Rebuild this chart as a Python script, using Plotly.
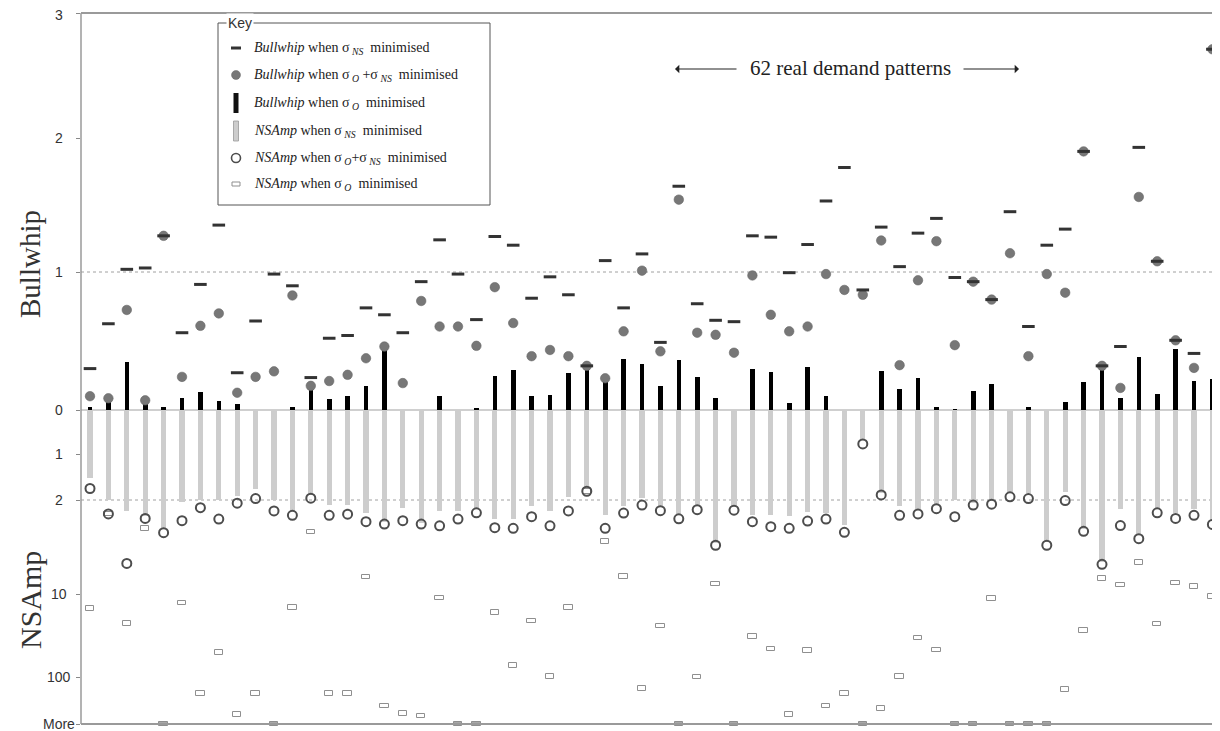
import numpy as np
import plotly.graph_objects as go

MORE = float("inf")

# 62 real demand patterns
patterns = list(range(1, 63))

# Bullwhip when sigma_NS minimised (dash)
bullwhip_ns = [0.30, 0.625, 1.02, 1.03, 1.27, 0.56, 0.91, 1.35, 0.27, 0.645,
               0.985, 0.90, 0.235, 0.52, 0.54, 0.74, 0.69, 0.56, 0.93, 1.24,
               0.985, 0.655, 1.265, 1.20, 0.81, 0.965, 0.835, 0.32, 1.085, 0.74,
               1.135, 0.49, 1.64, 0.77, 0.65, 0.64, 1.27, 1.26, 0.995, 1.205,
               1.53, 1.78, 0.87, 1.335, 1.04, 1.29, 1.40, 0.96, 0.93, 0.80,
               1.45, 0.605, 1.20, 1.32, 1.90, 0.32, 0.46, 1.93, 1.08, 0.505,
               0.41, 2.71]

# Bullwhip when sigma_O + sigma_NS minimised (grey dot)
bullwhip_both = [0.10, 0.085, 0.725, 0.07, 1.27, 0.24, 0.61, 0.70, 0.125, 0.24,
                 0.28, 0.83, 0.175, 0.21, 0.255, 0.375, 0.46, 0.195, 0.79, 0.605,
                 0.605, 0.465, 0.89, 0.63, 0.39, 0.435, 0.39, 0.32, 0.23, 0.57,
                 1.01, 0.425, 1.54, 0.56, 0.545, 0.415, 0.975, 0.69, 0.57, 0.605,
                 0.985, 0.87, 0.835, 1.235, 0.325, 0.94, 1.23, 0.47, 0.93, 0.80,
                 1.14, 0.39, 0.985, 0.85, 1.90, 0.32, 0.16, 1.56, 1.08, 0.505,
                 0.305, 2.71]

# Bullwhip when sigma_O minimised (black bar)
bullwhip_o = [0.025, 0.06, 0.345, 0.05, 0.025, 0.09, 0.13, 0.065, 0.045, 0.0,
              0.0, 0.02, 0.145, 0.08, 0.10, 0.175, 0.45, 0.0, 0.0, 0.10,
              0.0, 0.01, 0.245, 0.29, 0.10, 0.11, 0.265, 0.30, 0.205, 0.37,
              0.33, 0.175, 0.36, 0.24, 0.085, 0.0, 0.30, 0.275, 0.05, 0.31,
              0.105, 0.0, 0.0, 0.28, 0.15, 0.23, 0.025, 0.005, 0.14, 0.185,
              0.0, 0.025, 0.0, 0.055, 0.20, 0.35, 0.09, 0.385, 0.115, 0.44,
              0.21, 0.225]

# NSAmp when sigma_NS minimised (light grey bar)
nsamp_ns = [1.53, 2.0, 2.40, 2.65, 3.25, 2.06, 2.0, 2.0, 1.91, 1.77,
            2.0, 2.4, 1.9, 2.18, 2.18, 2.51, 2.9, 2.28, 2.95, 2.4,
            2.4, 2.35, 2.78, 2.78, 2.2, 2.41, 1.93, 1.78, 2.6, 2.23,
            1.96, 2.2, 2.6, 2.23, 4.2, 2.23, 2.6, 2.6, 2.62, 2.45,
            2.5, 3.08, 0.68, 1.85, 2.2, 2.35, 2.18, 2.0, 2.1, 2.05,
            1.82, 1.85, 4.08, 1.82, 3.27, 5.76, 2.33, 3.64, 2.33, 2.5,
            2.35, 2.84]

# NSAmp when sigma_O + sigma_NS minimised (open circle)
nsamp_both = [1.75, 2.54, 5.92, 2.74, 3.5, 2.85, 2.28, 2.77, 2.11, 1.97,
              2.41, 2.60, 1.96, 2.60, 2.55, 2.90, 3.02, 2.85, 3.02, 3.11,
              2.77, 2.49, 3.21, 3.25, 2.66, 3.11, 2.41, 1.81, 3.25, 2.5,
              2.18, 2.40, 2.76, 2.36, 4.34, 2.38, 2.90, 3.16, 3.25, 2.87,
              2.77, 3.48, 0.77, 1.89, 2.6, 2.54, 2.32, 2.66, 2.18, 2.15,
              1.93, 1.97, 4.34, 2.02, 3.42, 6.02, 3.1, 3.88, 2.49, 2.74,
              2.6, 3.04]

# NSAmp when sigma_O minimised (small rectangle)
nsamp_o = [15.0, 2.54, 22.8, 3.27, MORE, 12.9, 162, 51, 300, 162,
           MORE, 14.6, 3.46, 162, 162, 7.45, 235, 292, 316, 11.1,
           MORE, MORE, 16.8, 73, 21.2, 98, 14.6, 1.81, 4.08, 7.4,
           140, 24.3, MORE, 100, 8.46, MORE, 32.3, 46, 300, 48,
           235, 162, MORE, 252, 99, 34, 47, MORE, MORE, 11.4,
           MORE, MORE, MORE, 145, 27.7, 7.64, 8.6, 5.85, 23, 8.25,
           8.8, 10.7]

bullwhip_ticks = [3, 2, 1, 0]
nsamp_ticks = [1, 2, 10, 100, MORE]
nsamp_ticktext = ["1", "2", "10", "100", "More"]

# ---- axis transforms (chart's own custom scale) ----
def bw_pos(v):
    return float(np.interp(v, [0, 1, 2, 3], [0, 138, 272, 397]))

def ns_pos(v):
    if not np.isfinite(v):
        d = 314.0
    elif v <= 2:
        d = float(np.interp(v, [0, 1, 2], [0, 44, 90]))
    else:
        d = float(np.interp(np.log10(v), np.log10([2, 10, 100, 400]), [90, 184, 267, 314]))
    return -d

x = np.arange(len(patterns))
bw_ns_y = [bw_pos(v) for v in bullwhip_ns]
bw_both_y = [bw_pos(v) for v in bullwhip_both]
bw_o_y = [bw_pos(v) for v in bullwhip_o]
ns_ns_y = [ns_pos(v) for v in nsamp_ns]
ns_both_y = [ns_pos(v) for v in nsamp_both]
ns_o_y = [ns_pos(v) for v in nsamp_o]
RH = 4.5
ns_o_base = [p - RH / 2 for p in ns_o_y]
ns_o_fill = ["#a8a8a8" if not np.isfinite(v) else "white" for v in nsamp_o]

fig = go.Figure()
fig.add_trace(go.Bar(x=x, y=ns_ns_y, base=0, width=0.29, marker=dict(color="#cdcdcd", line=dict(width=0)),
                     name="NSAmp when σNS minimised", showlegend=False))
fig.add_trace(go.Bar(x=x, y=bw_o_y, base=0, width=0.25, marker=dict(color="#000000", line=dict(width=0)),
                     name="Bullwhip when σO minimised", showlegend=False))
fig.add_trace(go.Bar(x=x, y=[RH] * len(x), base=ns_o_base, width=0.46,
                     marker=dict(color=ns_o_fill, line=dict(color="#8f8f8f", width=1)),
                     name="NSAmp when σO minimised", showlegend=False))
fig.add_trace(go.Scatter(x=x, y=ns_both_y, mode="markers",
                         marker=dict(symbol="circle-open", size=9, color="#4d4d4d", line=dict(width=2, color="#4d4d4d")),
                         name="NSAmp when σO+σNS minimised", showlegend=False, cliponaxis=False))
fig.add_trace(go.Scatter(x=x, y=bw_both_y, mode="markers",
                         marker=dict(symbol="circle", size=9.5, color="#777777", line=dict(width=0.6, color="#666666")),
                         name="Bullwhip when σO+σNS minimised", showlegend=False, cliponaxis=False))
fig.add_trace(go.Scatter(x=x, y=bw_ns_y, mode="markers",
                         marker=dict(symbol="line-ew", size=9, line=dict(width=3, color="#333333")),
                         name="Bullwhip when σNS minimised", showlegend=False, cliponaxis=False))

# ---- layout helpers (screen pixel -> paper); page body adds an 8px offset ----
OFF = 8
L, W, B, H = 81, 1139, 728, 716
def PX(p):
    return (p - L) / W
def PY(p):
    return (B - p) / H

shapes = []
shapes.append(dict(type="line", xref="paper", x0=0, x1=1, yref="y", y0=0, y1=0,
                   line=dict(color="#a0a0a0", width=1), layer="below"))
shapes.append(dict(type="line", xref="paper", x0=0, x1=1, yref="y", y0=bw_pos(1), y1=bw_pos(1),
                   line=dict(color="#a0a0a0", width=1, dash="dot"), layer="below"))
shapes.append(dict(type="line", xref="paper", x0=0, x1=1, yref="y", y0=ns_pos(2), y1=ns_pos(2),
                   line=dict(color="#a0a0a0", width=1, dash="dot"), layer="below"))
shapes.append(dict(type="line", xref="paper", x0=0, x1=1, yref="y", y0=bw_pos(3), y1=bw_pos(3),
                   line=dict(color="#9a9a9a", width=2)))
shapes.append(dict(type="line", xref="paper", x0=0, x1=1, yref="y", y0=ns_pos(MORE), y1=ns_pos(MORE),
                   line=dict(color="#9a9a9a", width=2)))
shapes.append(dict(type="line", xref="paper", x0=0, x1=0, yref="y", y0=ns_pos(MORE), y1=bw_pos(3),
                   line=dict(color="#9a9a9a", width=1.5)))

# legend box
shapes.append(dict(type="rect", xref="paper", yref="paper", x0=PX(218), x1=PX(490), y0=PY(205), y1=PY(23),
                   line=dict(color="#555555", width=1), fillcolor="white"))
rows = [48, 75, 103, 131, 158, 184]
sx = 236
shapes.append(dict(type="rect", xref="paper", yref="paper", x0=PX(sx - 5), x1=PX(sx + 5),
                   y0=PY(rows[0] + 1.5), y1=PY(rows[0] - 1.5), line=dict(width=0), fillcolor="#333333"))
shapes.append(dict(type="circle", xref="paper", yref="paper", x0=PX(sx - 4.5), x1=PX(sx + 4.5),
                   y0=PY(rows[1] + 4.5), y1=PY(rows[1] - 4.5), line=dict(color="#666666", width=0.5), fillcolor="#777777"))
shapes.append(dict(type="rect", xref="paper", yref="paper", x0=PX(sx - 2.5), x1=PX(sx + 2.5),
                   y0=PY(rows[2] + 10), y1=PY(rows[2] - 10), line=dict(width=0), fillcolor="#111111"))
shapes.append(dict(type="rect", xref="paper", yref="paper", x0=PX(sx - 2.5), x1=PX(sx + 2.5),
                   y0=PY(rows[3] + 10), y1=PY(rows[3] - 10), line=dict(color="#999999", width=0.8), fillcolor="#cdcdcd"))
shapes.append(dict(type="circle", xref="paper", yref="paper", x0=PX(sx - 4.5), x1=PX(sx + 4.5),
                   y0=PY(rows[4] + 4.5), y1=PY(rows[4] - 4.5), line=dict(color="#4d4d4d", width=1.6), fillcolor="white"))
shapes.append(dict(type="rect", xref="paper", yref="paper", x0=PX(sx - 4), x1=PX(sx + 4),
                   y0=PY(rows[5] + 2), y1=PY(rows[5] - 2), line=dict(color="#8f8f8f", width=1), fillcolor="white"))

legend_texts = [
    "<i>Bullwhip</i> when σ<sub> <i>NS</i></sub>  minimised",
    "<i>Bullwhip</i> when σ<sub> <i>O</i></sub> +σ<sub> <i>NS</i></sub>  minimised",
    "<i>Bullwhip</i> when σ<sub> <i>O</i></sub>  minimised",
    "<i>NSAmp</i> when σ<sub> <i>NS</i></sub>  minimised",
    "<i>NSAmp</i> when σ<sub> <i>O</i></sub>+σ<sub> <i>NS</i></sub>  minimised",
    "<i>NSAmp</i> when σ<sub> <i>O</i></sub>  minimised",
]

serif = "Liberation Serif, Times New Roman, serif"
sans = "Liberation Sans, Arial, sans-serif"

annotations = []
for r, t in zip(rows, legend_texts):
    annotations.append(dict(xref="paper", yref="paper", x=PX(252), y=PY(r), text=t, showarrow=False,
                            xanchor="left", yanchor="middle", font=dict(family=serif, size=14, color="#222222")))
annotations.append(dict(xref="paper", yref="paper", x=PX(226), y=PY(23), text="Key", showarrow=False,
                        xanchor="left", yanchor="middle", bgcolor="white", borderpad=1,
                        font=dict(family=sans, size=14, color="#333333")))

# tick labels (centred, as in the original)
tick_pos = [bw_pos(v) for v in bullwhip_ticks] + [ns_pos(v) for v in nsamp_ticks]
tick_txt = [str(v) for v in bullwhip_ticks] + nsamp_ticktext
for p, t in zip(tick_pos, tick_txt):
    annotations.append(dict(xref="paper", yref="y", x=0, xshift=-22, y=p,
                            yshift=(-2 if p == max(tick_pos) else 0), text=t, showarrow=False,
                            xanchor="center", yanchor="middle", font=dict(family=sans, size=14, color="#333333")))

# axis titles
annotations.append(dict(xref="paper", yref="paper", x=0, xshift=-51, y=PY(264), text="Bullwhip",
                        textangle=-90, showarrow=False, xanchor="center", yanchor="middle",
                        font=dict(family=serif, size=29, color="#333333")))
annotations.append(dict(xref="paper", yref="paper", x=0, xshift=-51, y=PY(600), text="NSAmp",
                        textangle=-90, showarrow=False, xanchor="center", yanchor="middle",
                        font=dict(family=serif, size=30, color="#333333")))

# top note with arrows
annotations.append(dict(xref="paper", yref="paper", x=PX(850), y=PY(68), text="62 real demand patterns",
                        showarrow=False, xanchor="center", yanchor="middle",
                        font=dict(family=serif, size=21, color="#222222")))
annotations.append(dict(xref="paper", yref="paper", x=PX(675), y=PY(69), ax=65, ay=0, text=" ",
                        showarrow=True, arrowhead=1, arrowsize=1.2, arrowwidth=1.2, arrowcolor="#222222"))
annotations.append(dict(xref="paper", yref="paper", x=PX(1019), y=PY(69), ax=-59, ay=0, text=" ",
                        showarrow=True, arrowhead=1, arrowsize=1.2, arrowwidth=1.2, arrowcolor="#222222"))

fig.update_layout(
    width=1220 - OFF, height=731 - OFF,
    margin=dict(l=L - OFF, r=0, t=12 - OFF, b=3),
    paper_bgcolor="white", plot_bgcolor="white",
    barmode="overlay", bargap=0,
    showlegend=False,
    font=dict(family=sans, size=13, color="#333333"),
    shapes=shapes, annotations=annotations,
    xaxis=dict(range=[(L - 90) / 18.4, (1220 - 90) / 18.4], showticklabels=False, showgrid=False,
               zeroline=False, showline=False, ticks=""),
    yaxis=dict(range=[-318, 398], tickvals=tick_pos, showticklabels=False,
               ticks="outside", ticklen=4, tickcolor="#888888", showgrid=False, zeroline=False, showline=False),
)

fig.write_html("out.html")
